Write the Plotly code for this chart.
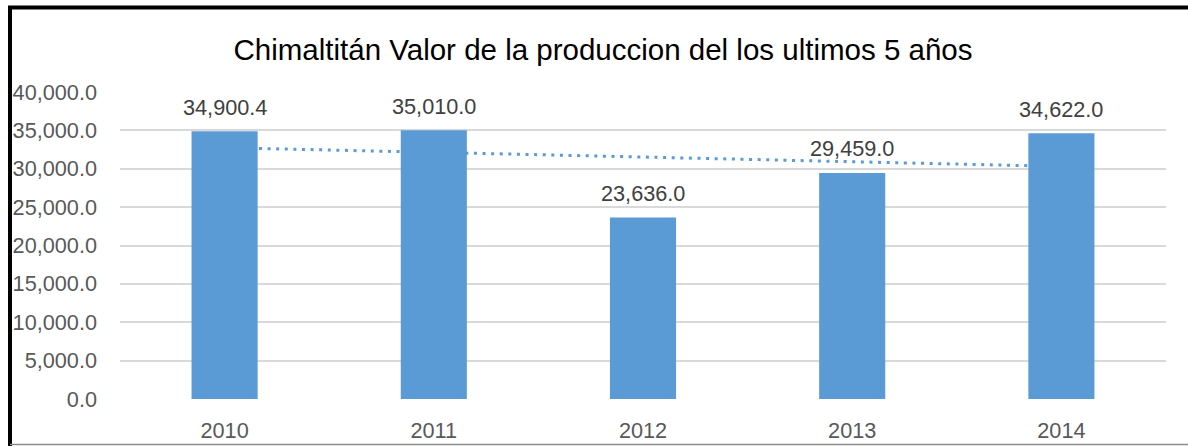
import numpy as np
import plotly.graph_objects as go

years = ["2010", "2011", "2012", "2013", "2014"]
values = [34900.4, 35010.0, 23636.0, 29459.0, 34622.0]
y_ticks = [0, 5000, 10000, 15000, 20000, 25000, 30000, 35000, 40000]
y_tick_labels = [f"{v:,.1f}" for v in y_ticks]
title_text = "Chimaltitán Valor de la produccion del los ultimos 5 años"

W, H = 1188, 446
ML, MR, MT, MB = 120, 22, 92, 47
PW, PH = W - ML - MR, H - MT - MB

FONT = "Liberation Sans"
BAR_COLOR = "#5B9BD5"
TICK_SIZE = 21.7

# linear trendline (least squares, as Excel does)
xi = np.arange(1, len(values) + 1)
slope, intercept = np.polyfit(xi, values, 1)
trend = slope * xi + intercept

fig = go.Figure()
# trendline on base axis (drawn underneath)
fig.add_trace(go.Scatter(
    x=years, y=trend, mode="lines", yaxis="y",
    line=dict(color=BAR_COLOR, width=3, dash="3px,5.6px"),
    hoverinfo="skip", showlegend=False,
))
# bars on overlaying axis so they draw on top of the trendline
fig.add_trace(go.Bar(
    x=years, y=values, yaxis="y2",
    marker=dict(color=BAR_COLOR, line=dict(width=0)),
    showlegend=False,
))

annotations = [
    dict(x=i, y=v, xref="x", yref="y", text=f"{v:,.1f}", showarrow=False,
         yshift=24, font=dict(family=FONT, size=TICK_SIZE, color="#404040"))
    for i, v in enumerate(values)
]

def px_x(p):
    return (p - ML) / PW

def px_y(p):
    return 1 - (p - MT) / PH

shapes = [
    dict(type="line", xref="paper", yref="paper", x0=px_x(10), x1=px_x(10),
         y0=px_y(6), y1=px_y(H + 2), line=dict(color="black", width=4)),
    dict(type="line", xref="paper", yref="paper", x0=px_x(8), x1=px_x(W + 2),
         y0=px_y(7.5), y1=px_y(7.5), line=dict(color="black", width=4)),
    dict(type="line", xref="paper", yref="paper", x0=px_x(10), x1=px_x(W + 2),
         y0=px_y(444.5), y1=px_y(444.5), line=dict(color="#8c8c8c", width=1.5)),
]

fig.update_layout(
    width=W, height=H,
    margin=dict(l=ML, r=MR, t=MT, b=MB, pad=0, autoexpand=False),
    paper_bgcolor="white", plot_bgcolor="white",
    title=dict(text=title_text, x=603 / W, xanchor="center", xref="container",
               y=1 - 50 / H, yanchor="middle", yref="container",
               font=dict(family=FONT, size=29.5, color="#000000")),
    bargap=0.684,
    xaxis=dict(type="category", categoryorder="array", categoryarray=years,
               range=[-0.5, len(years) - 0.5], automargin=False,
               showgrid=False, showline=False, zeroline=False,
               ticks="", ticklabelstandoff=16,
               tickfont=dict(family=FONT, size=TICK_SIZE, color="#595959")),
    yaxis=dict(range=[0, 40000], tickvals=y_ticks, ticktext=y_tick_labels,
               automargin=False,
               showgrid=True, gridcolor="#D9D9D9", gridwidth=1.5,
               zeroline=False, showline=False, ticks="", ticklabelstandoff=22,
               tickfont=dict(family=FONT, size=TICK_SIZE, color="#595959")),
    yaxis2=dict(range=[0, 40000], overlaying="y", side="left", showgrid=False,
                showticklabels=False, zeroline=False, showline=False,
                automargin=False),
    annotations=annotations,
    shapes=shapes,
)

fig.write_html(
    "out.html",
    config={"displayModeBar": False},
    post_script="document.body.style.margin='0';document.body.style.overflow='hidden';",
)
